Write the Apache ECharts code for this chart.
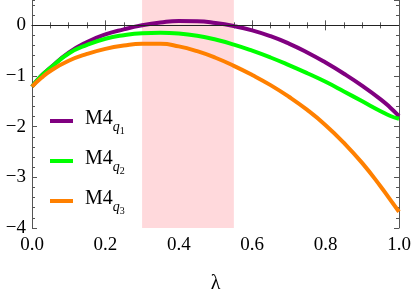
<!DOCTYPE html>
<html>
<head>
<meta charset="utf-8">
<script src="https://cdn.jsdelivr.net/npm/echarts@6/dist/echarts.min.js"></script>
<style>
html,body{margin:0;padding:0;background:#fff;}
#chart{width:415px;height:291px;}
</style>
</head>
<body>
<div id="chart"></div>
<script>
// lambda grid
var lambda = [0, 0.025, 0.05, 0.1, 0.15, 0.2, 0.25, 0.3, 0.35, 0.4, 0.45, 0.5, 0.55, 0.6, 0.65, 0.7, 0.75, 0.8, 0.85, 0.9, 0.95, 0.975, 1.0];
var seriesNames = ['M4_q1', 'M4_q2', 'M4_q3'];
var q1Values = [-1.21, -1.00, -0.84, -0.54, -0.33, -0.18, -0.08, 0.00, 0.055, 0.085, 0.08, 0.045, -0.015, -0.10, -0.215, -0.36, -0.535, -0.735, -0.955, -1.195, -1.46, -1.615, -1.79];
var q2Values = [-1.21, -1.00, -0.84, -0.555, -0.385, -0.265, -0.195, -0.155, -0.145, -0.16, -0.205, -0.28, -0.38, -0.50, -0.635, -0.785, -0.945, -1.115, -1.305, -1.50, -1.695, -1.785, -1.845];
var q3Values = [-1.21, -1.04, -0.90, -0.70, -0.565, -0.465, -0.40, -0.365, -0.365, -0.415, -0.51, -0.64, -0.80, -0.98, -1.18, -1.41, -1.67, -1.97, -2.32, -2.72, -3.18, -3.43, -3.68];
var shadeRange = [0.3, 0.55];
var yTicks = [-4, -3, -2, -1, 0];

var colors = ['#800080', '#00ff00', '#ff8000'];
var FONT = 'Liberation Serif';
var frameColor = '#555555';

function pairs(xs, ys) { return xs.map(function (x, i) { return [x, ys[i]]; }); }

function yAxisDef(pos, interval, len, showLabel, showLine) {
  return {
    type: 'value', position: pos, min: -4, max: 0.5, interval: interval,
    axisLine: { show: showLine, lineStyle: { color: frameColor, width: 1 } },
    axisTick: { show: true, inside: true, length: len, lineStyle: { color: frameColor, width: 1 } },
    axisLabel: {
      show: showLabel, showMaxLabel: false, margin: 6,
      fontFamily: FONT, fontSize: 19, color: '#000',
      formatter: function (v) { return yTicks.indexOf(v) >= 0 ? String(v).replace('-', '\u2212') : ''; }
    },
    splitLine: { show: false }
  };
}
function xAxisDef(pos, showLabel) {
  return {
    type: 'value', position: pos, min: 0, max: 1, interval: 0.2,
    axisLine: { show: true, lineStyle: { color: frameColor, width: 1 } },
    axisTick: { show: true, inside: true, length: 5, lineStyle: { color: frameColor, width: 1 } },
    minorTick: { show: true, splitNumber: 4, length: 3, lineStyle: { color: frameColor, width: 1 } },
    axisLabel: {
      show: showLabel, margin: 8, fontFamily: FONT, fontSize: 19, color: '#000',
      formatter: function (v) { return v.toFixed(1); }
    },
    name: showLabel ? '\u03bb' : '', nameLocation: 'middle', nameGap: 46,
    nameTextStyle: { fontFamily: FONT, fontSize: 20, color: '#000' },
    splitLine: { show: false }
  };
}

var legendRich = {
  m: { fontFamily: FONT, fontSize: 20, color: '#000', lineHeight: 24, verticalAlign: 'top', padding: [0, 0, 0, 7] },
  q: { fontFamily: FONT, fontSize: 14, fontStyle: 'italic', color: '#000', lineHeight: 14, verticalAlign: 'top', padding: [11, 0, 0, 0] },
  s: { fontFamily: FONT, fontSize: 10, color: '#000', lineHeight: 10, verticalAlign: 'top', padding: [17, 0, 0, 0] }
};

function lineSeries(i, values, z) {
  return {
    name: seriesNames[i], type: 'line', data: pairs(lambda, values), smooth: 0.5,
    showSymbol: false, symbol: 'none', lineStyle: { color: colors[i], width: 4, join: 'round' }, itemStyle: { color: colors[i] }, z: z
  };
}

var chart = echarts.init(document.getElementById('chart'), null, { renderer: 'canvas' });
var s1 = lineSeries(0, q1Values, 3);
s1.markArea = {
  silent: true, itemStyle: { color: '#ffd9dc' },
  data: [[{ xAxis: shadeRange[0] }, { xAxis: shadeRange[1] }]]
};
s1.markLine = {
  silent: true, symbol: ['none', 'none'], label: { show: false },
  lineStyle: { color: '#222', width: 1, type: 'solid' },
  data: [{ yAxis: 0 }]
};
var option = {
  animation: false,
  backgroundColor: '#fff',
  grid: { left: 32, right: 16, top: 0, bottom: 63, containLabel: false, outerBoundsMode: 'none' },
  xAxis: [xAxisDef('bottom', true), xAxisDef('top', false)],
  yAxis: [
    yAxisDef('left', 1, 5, true, true),
    yAxisDef('left', 0.2, 3, false, false),
    yAxisDef('right', 1, 5, false, true),
    yAxisDef('right', 0.2, 3, false, false)
  ],
  legend: {
    orient: 'vertical', left: 45, top: 104, itemWidth: 23, itemHeight: 4, itemGap: 13,
    icon: 'rect', data: seriesNames,
    textStyle: { rich: legendRich },
    formatter: function (name) {
      var idx = name.slice(-1);
      return '{m|M4}{q|q}{s|' + idx + '}';
    }
  },
  series: [s1, lineSeries(1, q2Values, 4), lineSeries(2, q3Values, 5)]
};
chart.setOption(option);
</script>
</body>
</html>
